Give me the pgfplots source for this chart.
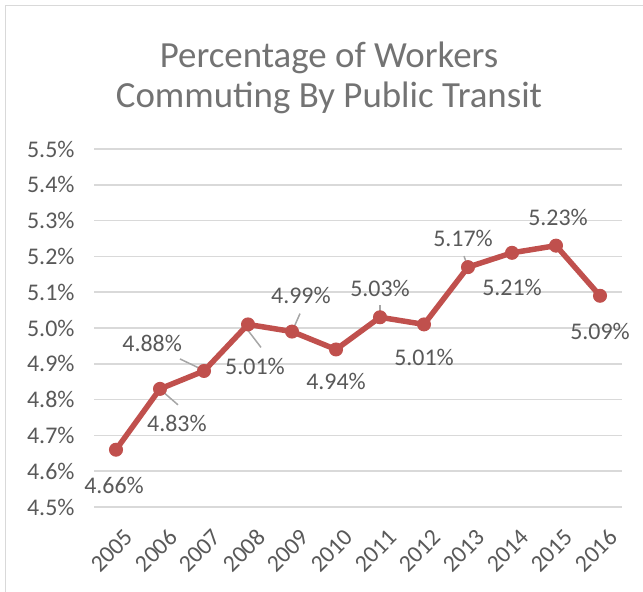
\documentclass[border=0pt]{standalone}
\usepackage{pgfplots}
\pgfplotsset{compat=1.18}
\usepackage{pgfplotstable}
\usepackage{fontspec}
\setmainfont{Carlito}
\definecolor{lred}{RGB}{192,80,77}
\definecolor{txtgray}{RGB}{89,89,89}
\definecolor{ttlgray}{RGB}{115,115,115}
\definecolor{gridgray}{RGB}{217,217,217}
\definecolor{leader}{RGB}{166,166,166}
\definecolor{framegray}{RGB}{217,217,217}

\pgfplotstableread{
x y dx dy
0 4.66 -2 -36
1 4.83 17 -35
2 4.88 -52 28
3 5.01 7 -42
4 4.99 9 36
5 4.94 0 -32
6 5.03 0 29
7 5.01 0 -33
8 5.17 -5 29
9 5.21 0 -35
10 5.23 2 28
11 5.09 0 -36
}\data

\begin{document}
\begin{tikzpicture}
\useasboundingbox (0,0) rectangle (643bp,592bp);
\draw[framegray, line width=1.5bp] (5.5bp,0) -- (5.5bp,586.5bp) -- (643bp,586.5bp);
\node[anchor=base, text=ttlgray, font=\fontsize{37}{40}\selectfont, inner sep=0] at (329bp,524bp) {Percentage of Workers};
\node[anchor=base, text=ttlgray, font=\fontsize{37}{40}\selectfont, inner sep=0] at (329bp,484bp) {Commuting By Public Transit};
\begin{axis}[
  at={(94bp,85bp)}, anchor=south west,
  width=528bp, height=358bp, scale only axis,
  xmin=-0.5, xmax=11.5, ymin=4.5, ymax=5.5,
  xtick={0,...,11},
  xticklabels={2005,2006,2007,2008,2009,2010,2011,2012,2013,2014,2015,2016},
  ytick={4.5,4.6,4.7,4.8,4.9,5.0,5.1,5.2,5.3,5.4,5.5},
  yticklabel={\pgfmathprintnumber[fixed,fixed zerofill,precision=1]{\tick}\%},
  /pgf/number format/assume math mode=true,
  axis line style={draw=none},
  major tick length=0pt,
  xmajorgrids=false, ymajorgrids=true,
  major grid style={gridgray, line width=1.5bp},
  tick label style={font=\fontsize{24}{28}\selectfont, text=txtgray},
  yticklabel style={anchor=east, xshift=-16bp},
  xticklabel style={rotate=45, anchor=east, xshift=-6bp, yshift=-28bp},
  clip=false,
]
% leader lines
\draw[leader, line width=1.5bp] (axis cs:1,4.83) ++(3bp,-3bp) -- ++(15bp,-13bp);
\draw[leader, line width=1.5bp] (axis cs:2,4.88) ++(-24bp,12bp) -- ++(21bp,-10bp);
\draw[leader, line width=1.5bp] (axis cs:3,5.01) ++(0bp,-6bp) -- ++(13bp,-17bp);
\draw[leader, line width=1.5bp] (axis cs:4,4.99) ++(8bp,18bp) -- ++(-7bp,-16bp);
\draw[leader, line width=1.5bp] (axis cs:6,5.03) ++(0bp,12bp) -- ++(0bp,-12bp);
\draw[leader, line width=1.5bp] (axis cs:8,5.17) ++(-4bp,11bp) -- ++(4bp,-11bp);
\addplot[color=lred, line width=5.5bp, mark=*, mark size=6.5bp,
  mark options={fill=lred, line width=1bp},
  point meta=explicit,
  visualization depends on={\thisrow{dx}\as\myDx},
  visualization depends on={\thisrow{dy}\as\myDy},
  nodes near coords={\pgfmathprintnumber[fixed,fixed zerofill,precision=2]{\pgfplotspointmeta}\%},
  every node near coord/.append style={anchor=center, xshift=\myDx, yshift=\myDy,
     font=\fontsize{24}{28}\selectfont, text=txtgray, /pgf/number format/assume math mode=true},
] table[x=x, y=y, meta=y] {\data};
\end{axis}
\end{tikzpicture}
\end{document}
